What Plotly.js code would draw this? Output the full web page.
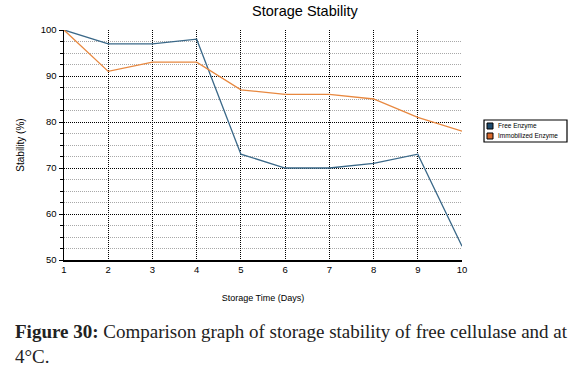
<!DOCTYPE html>
<html><head><meta charset="utf-8">
<script src="https://cdn.plot.ly/plotly-3.0.1.min.js"></script>
<style>html,body{margin:0;padding:0;background:#fff;}#chart{width:583px;height:374px;}</style>
</head><body><div id="chart"></div>
<script>
const days = [1,2,3,4,5,6,7,8,9,10];
const freeEnzyme = [100,97,97,98,73,70,70,71,73,53];
const immobilizedEnzyme = [100,91,93,93,87,86,86,85,81,78];
const seriesNames = ['Free Enzyme','Immobilized Enzyme'];
const lineColors = ['#3a6888','#e8883f'];
const boxColors = ['#1c4a6e','#d8692c'];

const traces = [
  {x: days, y: freeEnzyme, name:seriesNames[0], mode:'lines', line:{color:lineColors[0], width:1.3}, showlegend:false, hoverinfo:'skip'},
  {x: days, y: immobilizedEnzyme, name:seriesNames[1], mode:'lines', line:{color:lineColors[1], width:1.3}, showlegend:false, hoverinfo:'skip'}
];

// plot area: x 64..462 px, y 30..260 px
const px = v => (v - 64) / 398;
const py = v => (260 - v) / 230;

const shapes = [
  {type:'rect', xref:'paper', yref:'paper', x0:px(484), x1:px(567), y0:py(142), y1:py(120), line:{color:'#000', width:1.2}, fillcolor:'#fff'}
];
const annotations = [];
seriesNames.forEach((n, i) => {
  const top = 123 + i*10;
  shapes.push({type:'rect', xref:'paper', yref:'paper', x0:px(487), x1:px(493), y0:py(top+6), y1:py(top), line:{color:'#000', width:1}, fillcolor:boxColors[i]});
  annotations.push({xref:'paper', yref:'paper', x:px(496), y:py(top+3), xanchor:'left', yanchor:'middle', showarrow:false,
    text:n, font:{size:6.5, color:'#000', family:'Arial, Liberation Sans, sans-serif'}});
});
annotations.push({xref:'paper', yref:'paper', x:px(13), y:py(319), xanchor:'left', yanchor:'top', align:'left', showarrow:false,
  text:'<b>Figure 30:</b> Comparison graph of storage stability of free cellulase and at<br>4°C.',
  font:{family:'Liberation Serif, Times New Roman, serif', size:19, color:'#222'}});

const layout = {
  width:583, height:374,
  margin:{l:64, r:121, t:30, b:114, autoexpand:false},
  paper_bgcolor:'#fff', plot_bgcolor:'#fff',
  font:{family:'Arial, Liberation Sans, sans-serif', color:'#000'},
  showlegend:false,
  title:{text:'Storage Stability', font:{size:14.5, color:'#000'}, x:0.523, xanchor:'center', y:0.985, yanchor:'top'},
  xaxis:{
    range:[1,10], dtick:1, tick0:1, showline:true, linecolor:'#000', linewidth:1.5,
    ticks:'', tickfont:{size:9.5}, showgrid:true, gridcolor:'#000', griddash:'1px,1px', gridwidth:1,
    zeroline:false, fixedrange:true,
    title:{text:'Storage Time (Days)', font:{size:9}, standoff:21}
  },
  yaxis:{
    range:[50,100], dtick:10, tick0:50, showline:true, linecolor:'#000', linewidth:1.5,
    ticks:'outside', ticklen:4, tickcolor:'#000', tickfont:{size:9.5},
    showgrid:true, gridcolor:'#000', griddash:'1px,1px', gridwidth:1, zeroline:false,
    minor:{dtick:2.5, showgrid:true, gridcolor:'#a8a8a8', griddash:'1px,1px', ticks:'outside', ticklen:3, tickcolor:'#000'},
    title:{text:'Stability (%)', font:{size:10}, standoff:14}
  },
  shapes: shapes,
  annotations: annotations
};
Plotly.newPlot('chart', traces, layout, {staticPlot:true, displayModeBar:false});
</script></body></html>
